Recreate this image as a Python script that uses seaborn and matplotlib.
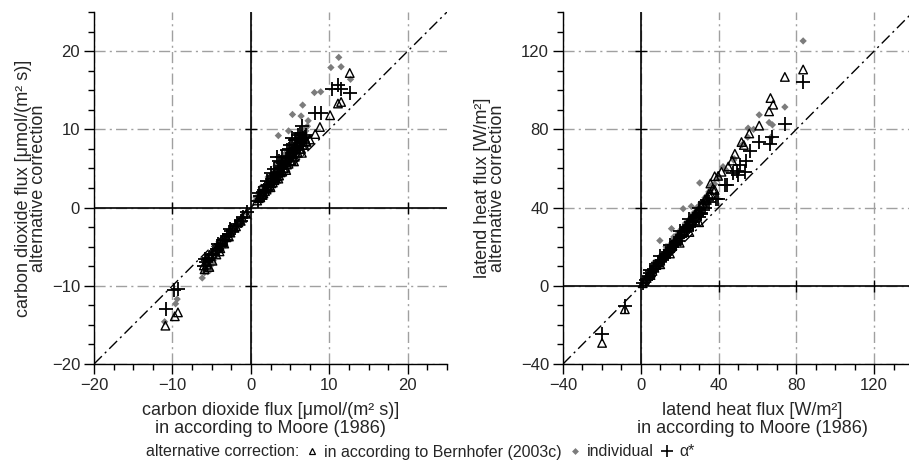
import numpy as np
import pandas as pd
import matplotlib
matplotlib.use("Agg")
import matplotlib.pyplot as plt
import seaborn as sns
from matplotlib.ticker import MultipleLocator
from matplotlib.lines import Line2D

# ---------------- data: carbon dioxide flux ----------------
co2_ind_x = [11.2, 10.2, 11.5, 12.7, 8.1, 8.9, 6.6, 5.3, 6.4, 7.3, 4.8, 3.5,
             0.6, 0.9, 1.2, 1.5, 1.8, 2.0, 2.3, 2.5, 2.8, 3.0, 3.2, 3.5, 3.8, 4.0,
             4.2, 4.5, 4.8, 5.0, 5.3, 5.5, 5.8, 6.0, 6.3, 6.5, 6.8, 7.0, 1.0, 1.6,
             2.2, 2.7, 3.3, 3.9, 4.4, 5.1, 5.7, 6.2,
             0.7, 1.1, 1.4, 1.7, 2.1, 2.4, 2.6, 2.9, 3.1, 3.4, 3.6, 3.9, 4.1, 4.3,
             4.6, 4.9, 5.2, 5.4, 5.7, 5.9, 6.1, 6.4, 6.7, 6.9, 7.2, 2.0, 3.0, 4.0,
             5.0, 6.0, 1.3, 2.2, 3.2, 4.4, 5.6,
             -0.5, -1.0, -1.5, -2.0, -2.5, -3.0, -3.5, -4.0, -4.5, -5.0, -5.3,
             -5.6, -6.2, -5.2, -4.8, -3.2, -2.2, -9.4, -9.6, -11.0,
             -1.2, -1.8, -2.4, -3.3, -3.8, -4.3, -4.9, -5.5, -5.9]
co2_ind_y = [19.2, 17.9, 18.0, 16.4, 14.7, 14.8, 13.1, 11.9, 11.7, 11.1, 9.8, 9.2,
             0.9, 1.4, 1.8, 2.3, 2.8, 3.0, 3.5, 3.9, 4.2, 4.6, 4.8, 5.3, 5.6, 6.0,
             6.2, 6.7, 7.0, 7.2, 7.6, 7.9, 8.2, 8.6, 8.9, 9.2, 9.5, 9.8, 1.2, 2.1,
             3.0, 3.6, 4.4, 5.0, 5.8, 6.6, 7.4, 8.0,
             1.3, 1.9, 2.4, 2.7, 3.3, 3.7, 4.1, 4.4, 4.9, 5.1, 5.5, 5.8, 6.3, 6.5,
             7.0, 7.4, 7.9, 8.1, 8.5, 8.7, 9.2, 9.4, 9.8, 10.1, 10.4, 2.6, 4.0, 5.4,
             6.8, 8.0, 2.6, 3.9, 5.3, 6.9, 8.4,
             -0.7, -1.3, -2.0, -2.6, -3.2, -3.9, -4.6, -5.2, -5.9, -6.6, -7.3,
             -7.8, -9.0, -8.0, -6.8, -4.3, -3.0, -11.7, -12.3, -14.6,
             -1.8, -2.6, -3.4, -4.8, -5.4, -6.1, -7.2, -8.2, -8.3]

co2_ber_x = [12.6, 11.5, 11.1, 10.1, 8.8, 8.2, 7.5,
             0.8, 1.2, 1.6, 2.0, 2.4, 2.8, 3.2, 3.6, 4.0, 4.4, 4.8, 5.2, 5.6, 6.0,
             6.4, 6.8, 7.1, 3.0, 4.2, 5.4, 6.2,
             1.0, 1.4, 1.8, 2.2, 2.6, 3.0, 3.4, 3.8, 4.2, 4.6, 5.0, 5.4, 5.8, 6.2,
             6.6, 7.0, 2.0, 2.9, 3.7, 4.5, 5.3, 6.1, 6.9,
             1.5, 2.5, 3.5, 4.5, 5.5, 6.5,
             -0.6, -1.1, -1.6, -2.1, -2.6, -3.1, -3.6, -4.1, -4.6, -5.1, -5.6,
             -6.0, -4.0, -5.3, -9.3, -9.7, -10.9,
             -1.3, -1.9, -2.8, -3.4, -3.9, -4.4, -4.9, -5.6, -5.9]
co2_ber_y = [17.2, 13.5, 13.3, 11.8, 10.3, 9.4, 8.7,
             0.9, 1.3, 1.8, 2.3, 2.8, 3.2, 3.7, 4.1, 4.6, 5.1, 5.6, 6.0, 6.5, 7.0,
             7.5, 8.0, 8.4, 3.9, 5.5, 6.9, 8.1,
             1.2, 1.7, 2.1, 2.6, 3.1, 3.5, 4.0, 4.5, 5.0, 5.5, 6.0, 6.5, 7.0, 7.5,
             8.0, 8.5, 2.5, 3.7, 4.7, 5.8, 6.8, 7.9, 8.9,
             1.6, 2.6, 3.7, 4.8, 5.9, 7.0,
             -0.8, -1.3, -1.9, -2.6, -3.2, -3.8, -4.4, -5.0, -5.6, -6.2, -6.9,
             -7.4, -5.6, -7.6, -13.4, -13.9, -15.1,
             -1.7, -2.4, -3.7, -4.6, -5.2, -6.0, -6.8, -7.3, -7.9]

co2_alp_x = [10.4, 11.1, 11.5, 12.6, 8.2, 8.9, 6.5, 5.3, 3.3, 0.85,
             1.5, 2.0, 2.5, 3.0, 3.5, 4.0, 4.5, 5.0, 5.5, 6.0, 6.5, 7.0, 6.2,
             5.8, 4.8, 3.8,
             1.2, 1.7, 2.2, 2.7, 3.2, 3.7, 4.2, 4.7, 5.2, 5.7, 6.2, 6.7, 1.9, 2.9,
             3.9, 4.9, 5.9, 6.9, 2.5, 3.6, 4.6, 5.6,
             1.0, 2.0, 3.0, 4.0, 5.0, 6.0,
             -0.5, -1.0, -1.3, -2.0, -2.5, -3.0, -3.5, -4.0, -4.5, -5.0, -5.5,
             -6.0, -5.8, -4.2, -2.6, -9.3, -9.8, -10.8,
             -1.8, -2.8, -3.3, -3.8, -4.3, -4.8, -5.3, -5.7]
co2_alp_y = [15.2, 15.7, 15.1, 14.6, 12.1, 12.1, 10.4, 8.9, 6.5, 0.9,
             2.0, 2.7, 3.3, 4.0, 4.6, 5.3, 6.0, 6.6, 7.3, 7.9, 8.6, 9.3, 9.5,
             8.8, 7.5, 5.8,
             1.5, 2.3, 2.9, 3.6, 4.3, 4.9, 5.6, 6.3, 7.0, 7.6, 8.2, 8.9, 2.3, 3.8,
             5.1, 6.4, 7.6, 9.0, 4.4, 5.9, 7.3, 8.6,
             1.9, 3.4, 4.9, 6.5, 8.0, 9.3,
             -0.6, -1.2, -1.7, -2.4, -3.0, -3.6, -4.2, -4.9, -5.5, -6.1, -6.7,
             -7.5, -6.6, -4.6, -2.8, -10.4, -10.6, -13.0,
             -2.1, -3.4, -4.1, -4.7, -5.3, -5.9, -6.4, -7.0]

# ---------------- data: latent heat flux ----------------
le_ind_x = [83.5, 74.1, 60.9, 66.0, 67.7, 58.0, 67.0, 30.3, 21.8, 26.0, 9.8,
            15.8, 42.3, 47.8, 55.2,
            2, 4, 6, 8, 10, 12, 14, 16, 18, 20, 22, 24, 26, 28, 30, 32, 34, 36,
            38, 40, 44, 48, 52, 55, 13, 17, 7, 36,
            3, 5, 7, 9, 11, 13, 15, 17, 19, 21, 23, 25, 27, 29, 31, 33, 35, 37,
            10, 20, 30]
le_ind_y = [125.2, 91.4, 87.4, 83.5, 82.3, 80.0, 76.0, 52.6, 39.4, 40.6, 23.1,
            29.2, 60.9, 64.3, 80.6,
            3, 5.5, 8.3, 11, 13.5, 16.5, 19, 21.5, 24, 27, 29.5, 32, 35, 37.5,
            40, 43, 46, 49, 52, 55, 59, 65, 72, 76, 20, 25, 12, 51,
            4.5, 7.5, 10, 12.5, 15.5, 18.5, 21, 24, 26.5, 29, 32, 34, 37, 40,
            42.5, 45, 48, 50.5, 15, 28, 41]

le_ber_x = [83.5, 74.1, 66.7, 68.1, 66.0, 60.9, 55.8, 51.8, 48.4, 39.8, 35.8,
            38.0, 41.5, -8.2, -19.9,
            1, 3, 5, 7, 9, 11, 13, 15, 17, 19, 21, 23, 25, 27, 29, 31, 33, 35,
            37, 45, 47, 53,
            2, 4, 6, 8, 10, 12, 14, 16, 18, 20, 22, 24, 26, 28, 30, 32, 34, 36, 38,
            5, 10, 15, 20, 25, 30]
le_ber_y = [110.6, 106.8, 96.0, 92.6, 89.2, 81.9, 77.9, 73.5, 67.5, 56.2, 52.3,
            56.0, 58.3, -12.0, -29.2,
            1.3, 4, 6.5, 9.2, 11.8, 14.3, 17, 19.5, 22, 25, 27.5, 30, 33, 35.5,
            38, 41, 44, 47, 49.5, 61, 64, 72,
            2.5, 5.4, 7.6, 10.6, 12.8, 15.9, 18.0, 21.2, 23.1, 26.3, 28.4, 31.5,
            33.5, 36.8, 38.7, 42.0, 43.9, 47.1, 49.0,
            5.5, 11.0, 16.5, 22.0, 27.5, 32.5]

le_alp_x = [83.5, 74.1, 67.4, 66.6, 60.9, 56.2, 54.0, 51.0, 49.3, 47.6, 43.2,
            39.8, 34.1, 38.9, 31.2, 44.1, 50.0, 53.5, -8.2, -19.9,
            1, 2.5, 4, 6, 8, 10, 12, 14, 16, 18, 20, 22, 24, 26, 28, 30, 32, 33,
            35, 25, 27,
            3, 5, 7, 9, 11, 13, 15, 17, 19, 21, 23, 25, 27, 29, 31, 12, 18, 24, 30,
            5, 10, 15, 20, 25, 30]
le_alp_y = [104.1, 82.6, 76.2, 72.5, 73.4, 69.1, 64.0, 61.9, 58.6, 57.5, 51.4,
            44.4, 43.7, 44.6, 36.9, 51.4, 56.6, 58.3, -10.3, -24.7,
            1.2, 3, 5, 7.5, 10, 12.5, 15, 17.5, 20, 22.5, 25, 27.5, 30, 32.5,
            35, 37, 38.5, 40, 43, 30, 31,
            3.6, 6.3, 8.4, 11.4, 13.3, 16.2, 18.1, 21.0, 22.9, 26.1, 27.9, 31.0,
            32.8, 36.0, 37.4, 14.0, 21.5, 28.6, 35.2,
            8.0, 15.0, 21.0, 28.0, 34.0, 40.0]

co2_ticks = [-20, -10, 0, 10, 20]
le_ticks = [-40, 0, 40, 80, 120]

legend_labels = ["in according to Bernhofer (2003c)", "individual", "α*"]

# ---------------- style ----------------
sns.set_style("white")
plt.rcParams["font.family"] = ["Liberation Sans", "DejaVu Sans"]
plt.rcParams["font.size"] = 11.5

W, H = 909, 466
fig = plt.figure(figsize=(W / 100, H / 100), dpi=100)

DASH = (0, (8, 3, 1.5, 3))
LABEL_FS = 13
TICK_FS = 12


def panel(ax, ix, iy, bx, by, ax_, ay_, lim, minor, ticks, xlabel, ylabel,
          xlab_x, ylab_x):
    ax.set_xlim(lim[0], lim[1])
    ax.set_ylim(lim[0], lim[2])
    ax.grid(True, which="major", color="#a0a0a0", lw=1.0, linestyle=DASH,
            zorder=0)
    ax.set_axisbelow(True)
    ax.axhline(0, color="black", lw=1.2, zorder=1)
    ax.axvline(0, color="black", lw=1.2, zorder=1)
    inner = [t for t in ticks if t != 0 and t != ticks[0]]
    ax.plot([0] * len(inner), inner, ls="none", marker="_", ms=8, mew=1.0,
            color="black", zorder=1)
    ax.plot(inner, [0] * len(inner), ls="none", marker="|", ms=8, mew=1.0,
            color="black", zorder=1)
    ax.axline((0, 0), slope=1, color="black", lw=1.0, linestyle=DASH, zorder=2)
    d_ind = pd.DataFrame({"x": ix, "y": iy})
    d_ber = pd.DataFrame({"x": bx, "y": by})
    d_alp = pd.DataFrame({"x": ax_, "y": ay_})
    sns.scatterplot(data=d_ind, x="x", y="y", ax=ax, marker="D", s=14,
                    color="#7c7c7c", edgecolor="none", linewidth=0, zorder=3)
    sns.scatterplot(data=d_ber, x="x", y="y", ax=ax, marker="^", s=38,
                    facecolor="none", edgecolor="black", linewidth=1.0, zorder=4)
    sns.scatterplot(data=d_alp, x="x", y="y", ax=ax, marker="+", s=90,
                    color="black", linewidth=1.3, zorder=5)
    ax.set_xticks(ticks)
    ax.set_yticks(ticks)
    ax.xaxis.set_minor_locator(MultipleLocator(minor))
    ax.yaxis.set_minor_locator(MultipleLocator(minor))
    ax.tick_params(which="major", direction="out", length=7, width=1.0,
                   color="black", pad=3, labelsize=TICK_FS, left=True,
                   bottom=True)
    ax.tick_params(which="minor", direction="out", length=4, width=1.0,
                   color="black", left=True, bottom=True)
    for s in ["top", "right"]:
        ax.spines[s].set_visible(False)
    for s in ["left", "bottom"]:
        ax.spines[s].set_color("black")
        ax.spines[s].set_linewidth(1.0)
    ax.set_xlabel(xlabel, fontsize=LABEL_FS, linespacing=1.06)
    ax.set_ylabel(ylabel, fontsize=LABEL_FS, linespacing=0.88)
    ax.xaxis.set_label_coords(xlab_x, -0.108)
    ax.yaxis.set_label_coords(ylab_x, 0.5)
    ax.yaxis.label.set_va("center")
    ax.xaxis.label.set_va("top")


ax1 = fig.add_axes([94 / W, 102 / H, 353 / W, 352 / H])
panel(ax1, co2_ind_x, co2_ind_y, co2_ber_x, co2_ber_y, co2_alp_x, co2_alp_y,
      (-20, 25, 25), 2.5, co2_ticks,
      "carbon dioxide flux [μmol/(m² s)]\nin according to Moore (1986)",
      "carbon dioxide flux [μmol/(m² s)]\nalternative correction",
      0.5, (31 - 94) / 353)

ax2 = fig.add_axes([563 / W, 102 / H, 350 / W, 352 / H])
panel(ax2, le_ind_x, le_ind_y, le_ber_x, le_ber_y, le_alp_x, le_alp_y,
      (-40, 140, 140), 10, le_ticks,
      "latend heat flux [W/m²]\nin according to Moore (1986)",
      "latend heat flux [W/m²]\nalternative correction",
      (752 - 563) / 350, (490 - 563) / 350)

# legend line
fig.text(146 / W, 1 - 452 / H, "alternative correction:", fontsize=11.5,
         ha="left", va="center")
handles = [
    Line2D([], [], ls="none", marker="^", ms=5, mfc="none", mec="black", mew=0.9),
    Line2D([], [], ls="none", marker="D", ms=3.5, mfc="#7c7c7c", mec="none"),
    Line2D([], [], ls="none", marker="+", ms=8, color="black", mew=1.2),
]
fig.legend(handles, legend_labels, loc="center left",
           bbox_to_anchor=(306 / W, 1 - 452 / H), ncol=3, frameon=False,
           fontsize=11.5, handlelength=0.7, handletextpad=0.4,
           columnspacing=0.5, borderpad=0, borderaxespad=0)

fig.savefig("out.png", dpi=100)
